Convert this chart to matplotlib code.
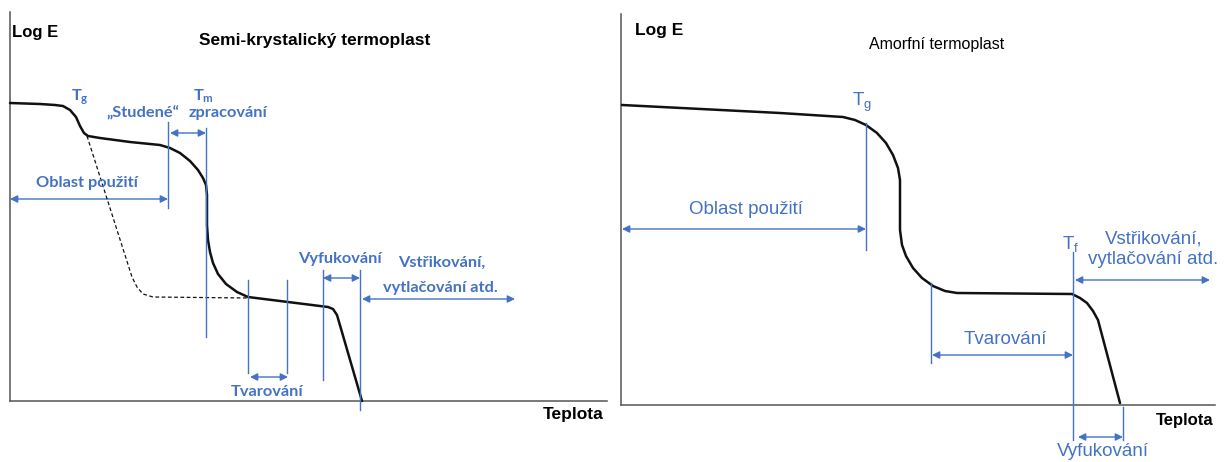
import matplotlib.pyplot as plt
from matplotlib.patches import FancyArrowPatch

plt.rcParams['font.family'] = ['Liberation Sans', 'DejaVu Sans']
plt.rcParams['mathtext.default'] = 'regular'

BLUE = '#4472c4'
BLACK = '#111111'
AXIS = '#555555'

# Curves (x = temperature, y = log E, in pixel units of the sketch)
semi_x = [10, 40, 55, 63, 70, 76, 80, 84, 88, 100, 130, 160, 170, 180, 190, 198, 203, 206,
          207, 207, 208, 210, 213, 218, 226, 237, 248, 328, 333, 337, 362]
semi_y = [103, 104, 105, 106, 110, 117, 126, 133, 136, 138, 142, 145, 148, 153, 161, 170, 178, 185,
          195, 225, 240, 252, 263, 274, 284, 292, 297, 307, 309, 315, 401]
amorph_dash_x = [87, 132, 137, 143, 153, 248]
amorph_dash_y = [136, 277, 287, 294, 297, 298]

amor_x = [622, 780, 843, 855, 866, 877, 886, 893, 898, 900, 900, 902, 906, 913, 922, 933, 945, 957,
          1072, 1080, 1087, 1093, 1098, 1120]
amor_y = [105, 113, 117, 120, 125, 133, 143, 155, 168, 180, 230, 245, 256, 268, 278, 286, 291, 293,
          294, 298, 303, 311, 320, 403]

# axes frames: (x_axis_x0, x_axis_x1, x_axis_y, y_axis_top)
frames = [(10, 607, 401, 12), (621, 1215, 405, 14)]

# blue marker lines (x, y_top, y_bottom)
left_vlines = [(168, 122, 208), (206, 128, 337), (248, 280, 373), (287, 280, 373),
               (323, 270, 380), (360, 270, 410)]
right_vlines = [(866, 123, 250), (931, 283, 363), (1073, 252, 440), (1123, 407, 440)]

# double arrows (x_start, x_end, y)
left_arrows = [(10, 168, 199), (170, 206, 133), (250, 288, 377), (323, 360, 278), (362, 515, 299)]
right_arrows = [(622, 866, 229), (932, 1073, 355), (1075, 1210, 280), (1078, 1123, 437)]

# labels (x, y, text)
left_labels = [(80, 97, r'$T_g$'), (204, 96, r'$T_m$'),
               (143, 113, '„Studené“'), (228, 113, 'zpracování'),
               (87, 183, 'Oblast použití'), (267, 392, 'Tvarování'),
               (340, 259, 'Vyfukování'), (442, 263, 'Vstřikování,'),
               (440, 288, 'vytlačování atd.')]
right_labels = [(862, 102, r'$T_g$'), (1071, 244, r'$T_f$'),
                (746, 210, 'Oblast použití'), (1005, 340, 'Tvarování'),
                (1154, 239, 'Vstřikování,'), (1153, 260, 'vytlačování atd.'),
                (1103, 452, 'Vyfukování')]

black_labels = [(12, 33, 'Log E', 'left', 12, 'bold'),
                (315, 40, 'Semi-krystalický termoplast', 'center', 12.5, 'bold'),
                (573, 415, 'Teplota', 'center', 12.5, 'bold'),
                (635, 30, 'Log E', 'left', 12.5, 'bold'),
                (937, 45, 'Amorfní termoplast', 'center', 11.5, 'normal'),
                (1185, 420, 'Teplota', 'center', 12, 'bold')]

fig = plt.figure(figsize=(12.3, 4.62), dpi=100)
ax = fig.add_axes([0, 0, 1, 1])
ax.set_xlim(0, 1230)
ax.set_ylim(462, 0)
ax.axis('off')

for x0, x1, y, top in frames:
    ax.plot([x0, x0], [top, y], color=AXIS, lw=1.1)
    ax.plot([x0, x1], [y, y], color=AXIS, lw=1.1)

ax.plot(semi_x, semi_y, color=BLACK, lw=1.8, solid_capstyle='round', solid_joinstyle='round')
ax.plot(amorph_dash_x, amorph_dash_y, color=BLACK, lw=0.9, ls=(0, (3, 2)))
ax.plot(amor_x, amor_y, color=BLACK, lw=1.8, solid_capstyle='round', solid_joinstyle='round')

for x, y0, y1 in left_vlines + right_vlines:
    ax.plot([x, x], [y0, y1], color=BLUE, lw=1.0)

for x0, x1, y in left_arrows + right_arrows:
    arr = FancyArrowPatch((x0, y), (x1, y), arrowstyle='<|-|>', mutation_scale=11,
                          color=BLUE, lw=1.0, shrinkA=0, shrinkB=0)
    ax.add_patch(arr)

for x, y, s in left_labels:
    ax.text(x, y, s, ha='center', va='center', color=BLUE, fontsize=11.8,
            family=['Lato', 'DejaVu Sans'], fontweight='bold')

for x, y, s in right_labels:
    ax.text(x, y, s, ha='center', va='center', color=BLUE, fontsize=13.5)

for x, y, s, ha, fs, fw in black_labels:
    ax.text(x, y, s, ha=ha, va='center', color='black', fontsize=fs, fontweight=fw)

fig.savefig('out.png', dpi=100)
